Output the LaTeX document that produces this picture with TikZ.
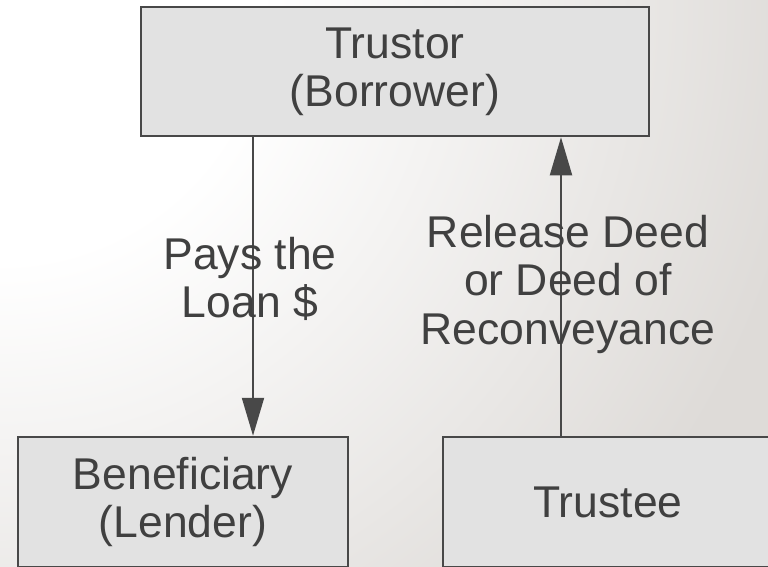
\documentclass[tikz,border=0pt]{standalone}
\usepackage{fontspec}
\setmainfont{Liberation Sans}
\usetikzlibrary{arrows.meta}
\definecolor{bgend}{RGB}{222,219,216}
\definecolor{boxfill}{RGB}{226,226,226}
\definecolor{boxline}{RGB}{72,72,72}
\definecolor{ink}{RGB}{64,64,64}
\pgfdeclareradialshading{bgshade}{\pgfpoint{0bp}{0bp}}{color(0bp)=(white); color(6.5bp)=(white); color(20.5bp)=(bgend); color(50bp)=(bgend)}

\begin{document}
\begin{tikzpicture}[x=1pt,y=-1pt,
    party/.style={draw=boxline,fill=boxfill,line width=2.5pt,text=ink,align=center,
      font=\fontsize{44.5}{48}\selectfont,inner sep=0pt},
    tag/.style={text=ink,align=center,font=\fontsize{44.5}{48.5}\selectfont,inner sep=0pt},
    link/.style={draw=boxline,line width=2pt,-{Triangle[length=38pt,width=22pt]}}]
  \useasboundingbox (0,0) rectangle (768,566);
  \begin{scope}
    \clip (0,0) rectangle (768,566);
    \shade[shading=bgshade] (0,0) circle (1000);
  \end{scope}
  \node[party,minimum width=508pt,minimum height=129pt] (trustor) at (395,71.5) {Trustor\\(Borrower)};
  \node[party,minimum width=330pt,minimum height=130pt] (ben) at (183,502) {Beneficiary\\(Lender)};
  \node[party,minimum width=330pt,minimum height=130pt] (trustee) at (608,502) {Trustee};
  % connectors
  \draw[link] ([xshift=-142pt]trustor.south) -- ([xshift=-142pt]trustor.south |- ben.north);
  \draw[link] ([xshift=-47pt]trustee.north) -- ([xshift=-47pt]trustee.north |- trustor.south);
  \node[tag] (pays) at (250,279) {Pays the\\Loan \$};
  \node[tag] (release) at (568,284) {Release Deed\\or Deed of\\Reconveyance};
\end{tikzpicture}
\end{document}
